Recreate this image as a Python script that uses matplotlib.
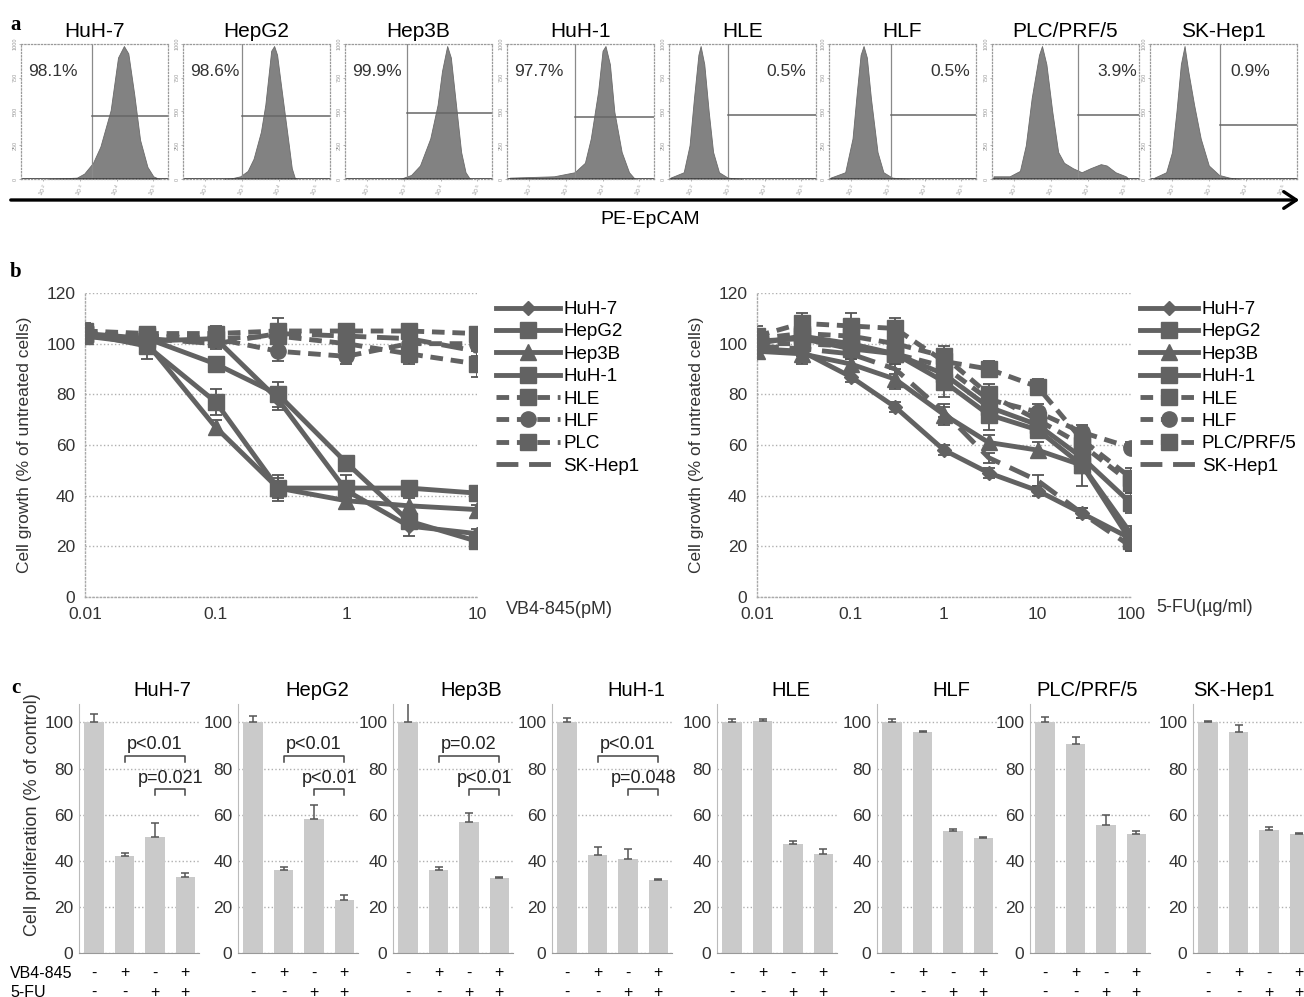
import matplotlib
matplotlib.use('Agg')
import matplotlib.pyplot as plt

plt.rcParams['font.family'] = ['Liberation Sans', 'DejaVu Sans']

W, H = 1304, 997
fig = plt.figure(figsize=(W / 100, H / 100), dpi=100)


def add_ax(left, top, width, height):
    return fig.add_axes([left / W, 1 - (top + height) / H, width / W, height / H])


DARK = '#626262'
FILL = '#828282'
GRID = '#b0b0b0'
BAR = '#cacaca'

# ---------------- Panel a : flow cytometry ----------------
flow_names = ['HuH-7', 'HepG2', 'Hep3B', 'HuH-1', 'HLE', 'HLF', 'PLC/PRF/5', 'SK-Hep1']
flow_pct = ['98.1%', '98.6%', '99.9%', '97.7%', '0.5%', '0.5%', '3.9%', '0.9%']
flow_gate = [3.32, 3.0, 3.08, 3.24, 3.0, 3.08, 3.74, 3.3]
flow_gate_h = [470, 470, 490, 460, 475, 475, 475, 400]

huh7_x = [2.12, 2.92, 3.12, 3.36, 3.56, 3.84, 4.04, 4.2, 4.32, 4.48, 4.64, 4.84, 5.0, 5.16]
huh7_y = [0, 10, 40, 120, 240, 510, 900, 985, 930, 630, 290, 90, 20, 0]
hepg2_x = [2.5, 2.72, 2.96, 3.16, 3.32, 3.52, 3.64, 3.72, 3.8, 3.88, 3.96, 4.04, 4.16, 4.28, 4.36, 4.44, 4.52]
hepg2_y = [0, 5, 20, 60, 150, 350, 550, 750, 950, 985, 920, 750, 500, 250, 80, 10, 0]
hep3b_x = [2.9, 3.2, 3.44, 3.72, 3.92, 4.04, 4.18, 4.28, 4.42, 4.56, 4.68, 4.8]
hep3b_y = [0, 30, 100, 300, 550, 800, 985, 900, 550, 200, 50, 0]
huh1_x = [1.48, 2.68, 3.24, 3.52, 3.68, 3.88, 4.0, 4.08, 4.2, 4.32, 4.52, 4.72, 4.88]
huh1_y = [10, 20, 50, 120, 300, 650, 950, 985, 850, 500, 200, 50, 0]
hle_x = [1.44, 1.8, 1.96, 2.08, 2.2, 2.26, 2.36, 2.48, 2.6, 2.76, 3.0, 3.4]
hle_y = [10, 50, 250, 600, 920, 985, 850, 500, 200, 50, 10, 0]
hlf_x = [1.44, 1.84, 2.04, 2.16, 2.26, 2.34, 2.43, 2.54, 2.72, 2.88, 3.12, 3.56]
hlf_y = [10, 50, 300, 650, 920, 985, 900, 600, 200, 50, 10, 0]
plc_x = [1.44, 1.88, 2.16, 2.32, 2.48, 2.68, 2.76, 2.88, 3.04, 3.2, 3.36, 3.6, 3.84, 4.08,
         4.36, 4.52, 4.76, 5.04, 5.12]
plc_y = [20, 20, 60, 250, 600, 920, 985, 850, 500, 200, 120, 80, 50, 80, 110, 100, 50, 20, 0]
skhep1_x = [1.52, 1.84, 2.0, 2.12, 2.24, 2.34, 2.44, 2.6, 2.78, 3.0, 3.28, 3.56, 3.84]
skhep1_y = [10, 50, 200, 500, 850, 985, 800, 550, 300, 100, 30, 10, 0]

hist_x = [huh7_x, hepg2_x, hep3b_x, huh1_x, hle_x, hlf_x, plc_x, skhep1_x]
hist_y = [huh7_y, hepg2_y, hep3b_y, huh1_y, hle_y, hlf_y, plc_y, skhep1_y]
flow_ticks = [2, 3, 4, 5]
flow_ticklabels = ['$10^2$', '$10^3$', '$10^4$', '$10^5$']
count_ticks = [0, 250, 500, 750, 1000]

flow_left = [21, 183, 345, 507, 669, 829, 992, 1150]
pct_pos = [(0.05, 'left'), (0.05, 'left'), (0.05, 'left'), (0.05, 'left'),
           (0.93, 'right'), (0.96, 'right'), (0.99, 'right'), (0.82, 'right')]

for i in range(8):
    ax = add_ax(flow_left[i], 44, 147, 135)
    ax.fill_between(hist_x[i], hist_y[i], color=FILL, lw=0.6, edgecolor='#6a6a6a')
    ax.set_xlim(1.4, 5.4)
    ax.set_ylim(0, 1000)
    ax.axvline(flow_gate[i], color='#8a8a8a', lw=0.9)
    ax.plot([flow_gate[i], 5.4], [flow_gate_h[i], flow_gate_h[i]], color='#666666', lw=1.1)
    ax.plot([1.4, 5.4], [0, 0], color='#333333', lw=1.2)
    for s in ax.spines.values():
        s.set_color('#9a9a9a')
        s.set_linestyle(':')
        s.set_linewidth(0.9)
    ax.set_xticks(flow_ticks)
    ax.set_xticklabels(flow_ticklabels, fontsize=4.5, rotation=60, color='#8a8a8a')
    ax.set_yticks(count_ticks)
    ax.set_yticklabels([str(t) for t in count_ticks], fontsize=4, rotation=90,
                       color='#9a9a9a', va='center')
    ax.tick_params(length=1.5, width=0.5, pad=1, colors='#9a9a9a')
    ax.set_title(flow_names[i], fontsize=15, pad=5)
    px, ha = pct_pos[i]
    ax.text(px, 0.8, flow_pct[i], transform=ax.transAxes, ha=ha, va='center',
            fontsize=12.5, color='#333333')

# ---------------- Panel b : dose response ----------------
line_names = ['HuH-7', 'HepG2', 'Hep3B', 'HuH-1', 'HLE', 'HLF', 'PLC', 'SK-Hep1']
line_names_fu = ['HuH-7', 'HepG2', 'Hep3B', 'HuH-1', 'HLE', 'HLF', 'PLC/PRF/5', 'SK-Hep1']

vb_conc = [0.01, 0.03, 0.1, 0.3, 1, 3, 10]
vb_huh7 = [103, 101, 102, 78, 42, 28, 25]
vb_hepg2 = [104, 102, 92, 80, 53, 30, 22]
vb_hep3b = [103, 100, 67, 43, 38, 36, 34.5]
vb_huh1 = [104, 99, 77, 43, 43, 43, 41]
vb_hle = [105, 104, 104, 105, 105, 105, 104]
vb_hlf = [104, 103, 102, 97, 95, 100, 100]
vb_plc = [104, 103, 102, 103, 100, 96, 92]
vb_skhep1 = [103, 102, 100, 104, 103, 102, 97]

vb_huh7_err = [2, 3, 2, 4, 3, 4, 2]
vb_hepg2_err = [3, 3, 2, 5, 2, 3, 2]
vb_hep3b_err = [2, 6, 3, 5, 2, 3, 2]
vb_huh1_err = [3, 2, 5, 4, 5, 2, 2]
vb_hle_err = [3, 2, 3, 5, 2, 2, 2]
vb_hlf_err = [2, 2, 2, 4, 3, 2, 2]
vb_plc_err = [3, 2, 2, 2, 3, 4, 5]
vb_skhep1_err = [2, 2, 2, 2, 2, 2, 2]

fu_conc = [0.01, 0.03, 0.1, 0.3, 1, 3, 10, 30, 100]
fu_huh7 = [98, 97, 87, 75, 58, 49, 42, 33, 23]
fu_hepg2 = [100, 103, 100, 96, 88, 75, 68, 55, 37]
fu_hep3b = [97, 96, 92, 86, 72, 61, 58, 52, 25]
fu_huh1 = [101, 102, 98, 96, 85, 72, 66, 52, 22]
fu_hle = [103, 108, 107, 106, 93, 90, 83, 62, 47]
fu_hlf = [100, 100, 99, 96, 91, 78, 73, 65, 59]
fu_plc = [102, 104, 103, 100, 95, 80, 70, 60, 45]
fu_skhep1 = [99, 98, 96, 90, 73, 55, 46, 33, 20]

fu_huh7_err = [2, 2, 2, 2, 2, 2, 2, 2, 2]
fu_hepg2_err = [3, 5, 4, 3, 5, 4, 3, 4, 4]
fu_hep3b_err = [3, 4, 3, 4, 4, 3, 3, 3, 3]
fu_huh1_err = [3, 8, 4, 4, 6, 6, 3, 8, 4]
fu_hle_err = [4, 4, 5, 4, 5, 3, 3, 4, 4]
fu_hlf_err = [2, 3, 3, 4, 3, 3, 3, 3, 2]
fu_plc_err = [3, 4, 4, 4, 4, 4, 3, 4, 4]
fu_skhep1_err = [2, 2, 2, 2, 2, 2, 2, 2, 2]

markers = ['D', 's', '^', 's', 's', 'o', 's', 'None']
msizes = [7, 11, 11, 11, 11, 11, 11, 0]
solid = '-'
dash = (0, (2.6, 1.6))
longdash = (0, (4.5, 2.2))
lstyles = [solid, solid, solid, solid, dash, dash, dash, longdash]

vb_vals = [vb_huh7, vb_hepg2, vb_hep3b, vb_huh1, vb_hle, vb_hlf, vb_plc, vb_skhep1]
vb_errs = [vb_huh7_err, vb_hepg2_err, vb_hep3b_err, vb_huh1_err, vb_hle_err, vb_hlf_err,
           vb_plc_err, vb_skhep1_err]
fu_vals = [fu_huh7, fu_hepg2, fu_hep3b, fu_huh1, fu_hle, fu_hlf, fu_plc, fu_skhep1]
fu_errs = [fu_huh7_err, fu_hepg2_err, fu_hep3b_err, fu_huh1_err, fu_hle_err, fu_hlf_err,
           fu_plc_err, fu_skhep1_err]

b_specs = [
    (add_ax(85, 293, 392, 304), vb_conc, vb_vals, vb_errs, line_names,
     [0.01, 0.1, 1, 10], ['0.01', '0.1', '1', '10'], 496, 3.4),
    (add_ax(757, 293, 374, 304), fu_conc, fu_vals, fu_errs, line_names_fu,
     [0.01, 0.1, 1, 10, 100], ['0.01', '0.1', '1', '10', '100'], 1140, 3.1),
]

for ax, conc, vals, errs, names, xt, xtl, leg_x, hlen in b_specs:
    handles = []
    for k in range(8):
        ax.errorbar(conc, vals[k], yerr=errs[k], fmt='none', ecolor='#555555',
                    elinewidth=1.3, capsize=4, capthick=1.3, zorder=2)
        ln, = ax.plot(conc, vals[k], color=DARK, lw=3.5, ls=lstyles[k], marker=markers[k],
                      ms=msizes[k], mfc=DARK, mec=DARK, zorder=3, label=names[k])
        handles.append(ln)
    ax.set_xscale('log')
    ax.set_xlim(conc[0], conc[-1])
    ax.set_ylim(0, 120)
    ax.set_yticks(range(0, 121, 20))
    ax.set_xticks(xt)
    ax.set_xticklabels(xtl)
    ax.minorticks_off()
    ax.tick_params(labelsize=12.5, length=0, pad=7, colors='#333333')
    ax.grid(axis='y', color=GRID, ls=':', lw=1)
    for sp in ['top', 'right']:
        ax.spines[sp].set_visible(False)
    for sp in ['left', 'bottom']:
        ax.spines[sp].set_color('#aaaaaa')
        ax.spines[sp].set_linestyle(':')
        ax.spines[sp].set_linewidth(1)
    ax.set_ylabel('Cell growth (% of untreated cells)', fontsize=12.5, color='#333333',
                  labelpad=10)
    ax.legend(handles=handles, loc='upper left', bbox_to_anchor=(leg_x / W, 1 - 301 / H),
              bbox_transform=fig.transFigure, frameon=False, fontsize=13.5,
              handlelength=hlen, handletextpad=0.2, labelspacing=0.28, borderpad=0,
              borderaxespad=0)

# ---------------- Panel c : proliferation bars ----------------
prolif_names = ['HuH-7', 'HepG2', 'Hep3B', 'HuH-1', 'HLE', 'HLF', 'PLC/PRF/5', 'SK-Hep1']
prolif_huh7 = [100, 42, 50.5, 33]
prolif_hepg2 = [100, 35.8, 58, 23]
prolif_hep3b = [100, 35.8, 56.7, 32.4]
prolif_huh1 = [100, 42.6, 40.7, 31.5]
prolif_hle = [100, 100.7, 47.4, 43]
prolif_hlf = [100, 96, 53, 50]
prolif_plc = [100, 90.8, 55.5, 51.7]
prolif_skhep1 = [100, 96, 53.5, 51.5]

prolif_huh7_err = [3.5, 1.2, 5.8, 1.5]
prolif_hepg2_err = [3, 1.6, 6, 2]
prolif_hep3b_err = [12, 1.5, 4, 0.5]
prolif_huh1_err = [2, 3.2, 4.5, 0.7]
prolif_hle_err = [1.5, 1, 1.2, 2]
prolif_hlf_err = [1.5, 0.5, 1, 0.4]
prolif_plc_err = [2.5, 2.8, 4.5, 1]
prolif_skhep1_err = [0.8, 3, 1, 0.5]

vb_signs = ['-', '+', '-', '+']
fu_signs = ['-', '-', '+', '+']

p_top = ['p<0.01', 'p<0.01', 'p=0.02', 'p<0.01']
p_bottom = ['p=0.021', 'p<0.01', 'p<0.01', 'p=0.048']
bracket_top_y = 85.5
bracket_bottom_y = 71

prolif_vals = [prolif_huh7, prolif_hepg2, prolif_hep3b, prolif_huh1, prolif_hle, prolif_hlf,
               prolif_plc, prolif_skhep1]
prolif_errs = [prolif_huh7_err, prolif_hepg2_err, prolif_hep3b_err, prolif_huh1_err,
               prolif_hle_err, prolif_hlf_err, prolif_plc_err, prolif_skhep1_err]

c_left = [79, 238, 393, 552, 717, 877, 1030, 1193]
c_title_x = [162, 317, 471, 636, 791, 951, 1087, 1234]
bar_pos = [0, 1, 2, 3]

for i in range(8):
    ax = add_ax(c_left[i], 704, 120, 249)
    ax.bar(bar_pos, prolif_vals[i], width=0.64, color=BAR, edgecolor='none', zorder=2)
    ax.errorbar(bar_pos, prolif_vals[i], yerr=[[0] * 4, prolif_errs[i]], fmt='none',
                ecolor='#555555', elinewidth=1.1, capsize=3, capthick=1.1, zorder=3)
    ax.set_xlim(-0.5, 3.45)
    ax.set_ylim(0, 108)
    ax.set_yticks(range(0, 101, 20))
    ax.set_xticks([])
    ax.tick_params(axis='y', labelsize=12.5, length=0, pad=4, colors='#333333')
    ax.grid(axis='y', color=GRID, ls=':', lw=1, zorder=0)
    ax.set_axisbelow(True)
    for sp in ['top', 'right']:
        ax.spines[sp].set_visible(False)
    ax.spines['left'].set_color('#bbbbbb')
    ax.spines['bottom'].set_color('#999999')
    xt = ax.get_xaxis_transform()
    for j in range(4):
        ax.text(bar_pos[j], -0.08, vb_signs[j], transform=xt, ha='center', va='center',
                fontsize=11.5, clip_on=False)
        ax.text(bar_pos[j], -0.157, fu_signs[j], transform=xt, ha='center', va='center',
                fontsize=11.5, clip_on=False)
    if i < 4:
        for (a, b), y, lab in [((1, 3), bracket_top_y, p_top[i]),
                               ((2, 3), bracket_bottom_y, p_bottom[i])]:
            ax.plot([a, a, b, b], [y - 2.5, y, y, y - 2.5], color='#444444', lw=1.1,
                    clip_on=False, zorder=4)
            ax.text((a + b) / 2, y + 1.2, lab, ha='center', va='bottom', fontsize=13,
                    color='#222222', clip_on=False, zorder=4)
    fig.text(c_title_x[i] / W, 1 - 691 / H, prolif_names[i], ha='center', va='center',
             fontsize=14.5)

# ---------------- figure-level annotations ----------------
for lab, y in [('a', 25), ('b', 272), ('c', 688)]:
    fig.text(16 / W, 1 - y / H, lab, fontsize=15, fontweight='bold',
             family='Liberation Serif', ha='center', va='center')

fig.add_artist(matplotlib.patches.FancyArrowPatch(
    (8 / W, 1 - 200 / H), (1302 / W, 1 - 200 / H), transform=fig.transFigure,
    arrowstyle='->,head_length=6,head_width=4', color='black', lw=2.4,
    mutation_scale=1.5))
fig.text(650 / W, 1 - 219 / H, 'PE-EpCAM', fontsize=14, ha='center', va='center')

fig.text(506 / W, 1 - 609 / H, 'VB4-845(pM)', fontsize=13, ha='left', va='center',
         color='#333333')
fig.text(1156 / W, 1 - 607 / H, '5-FU(\u00b5g/ml)', fontsize=13, ha='left', va='center',
         color='#333333')

fig.text(33 / W, 1 - 815 / H, 'Cell proliferation (% of control)', fontsize=13,
         rotation=90, ha='center', va='center', color='#333333')
fig.text(10 / W, 1 - 973 / H, 'VB4-845', fontsize=11.5, ha='left', va='center')
fig.text(10 / W, 1 - 992 / H, '5-FU', fontsize=11.5, ha='left', va='center')

fig.savefig('out.png', dpi=100, facecolor='white')
